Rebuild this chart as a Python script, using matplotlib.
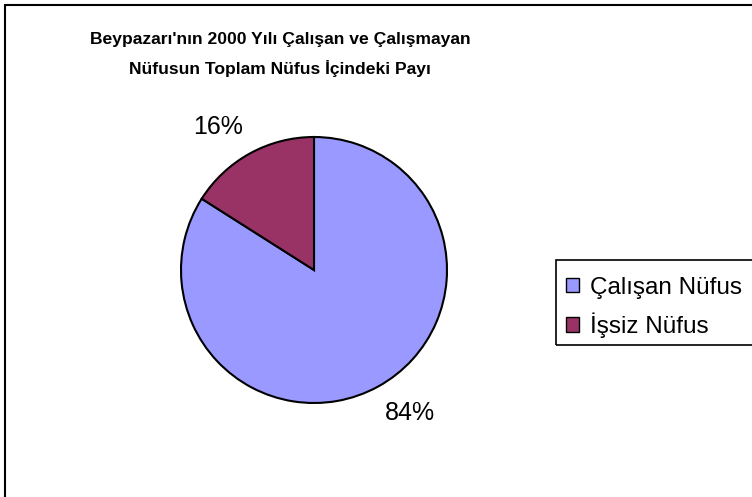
import numpy as np
import matplotlib.pyplot as plt
from matplotlib.patches import Rectangle

# data
labels = ["Çalışan Nüfus", "İşsiz Nüfus"]
shares = [84, 16]
colors = ["#9999FF", "#993366"]
title = "Beypazarı'nın 2000 Yılı Çalışan ve Çalışmayan\nNüfusun Toplam Nüfus İçindeki Payı"

W, H = 752, 497
fig = plt.figure(figsize=(W / 100, H / 100), dpi=100)
fig.patch.set_facecolor("white")

# outer chart frame (right and bottom run off the picture)
fig.add_artist(Rectangle((5 / W, -0.1), 1.2, (H - 5) / H + 0.1, transform=fig.transFigure,
                         fill=False, edgecolor="black", linewidth=1.5))

fig.text(280 / W, 1 - 32 / H, title, ha="center", va="top", fontsize=12.6,
         fontweight="bold", family="Liberation Sans", linespacing=1.95)

# pie: centre ~ (314, 270), radius ~133 px
cx, cy, r = 314, 270, 133
ax = fig.add_axes([(cx - r) / W, (H - cy - r) / H, 2 * r / W, 2 * r / H])
wedges, texts, autotexts = ax.pie(
    shares, colors=colors, startangle=90, counterclock=False,
    autopct="%1.0f%%", pctdistance=1.29,
    wedgeprops=dict(edgecolor="black", linewidth=1.5),
    textprops=dict(fontsize=18, family="Liberation Sans"))
ax.set_aspect("equal")
ax.set_xlim(-1, 1)
ax.set_ylim(-1, 1)

# Excel "best fit" labels sit a little counter-clockwise of the slice middle
for w, t in zip(wedges, autotexts):
    ang = np.deg2rad((w.theta1 + w.theta2) / 2 + 5)
    t.set_position((1.29 * np.cos(ang), 1.29 * np.sin(ang)))

# legend frame runs off the right edge
fig.add_artist(Rectangle((556 / W, 1 - 345 / H), 0.5, 85 / H, transform=fig.transFigure,
                         fill=False, edgecolor="black", linewidth=1.2))
leg = fig.legend(wedges, labels, loc="upper left", bbox_to_anchor=(556 / W, 1 - 267 / H),
                 prop=dict(family="Liberation Sans", size=17.5), frameon=False,
                 handlelength=0.55, handleheight=0.55, handletextpad=0.45,
                 labelspacing=0.58, borderpad=0.4, borderaxespad=0)
for h in leg.legend_handles:
    h.set_edgecolor("black")
    h.set_linewidth(1)

fig.savefig("out.png", dpi=100)
